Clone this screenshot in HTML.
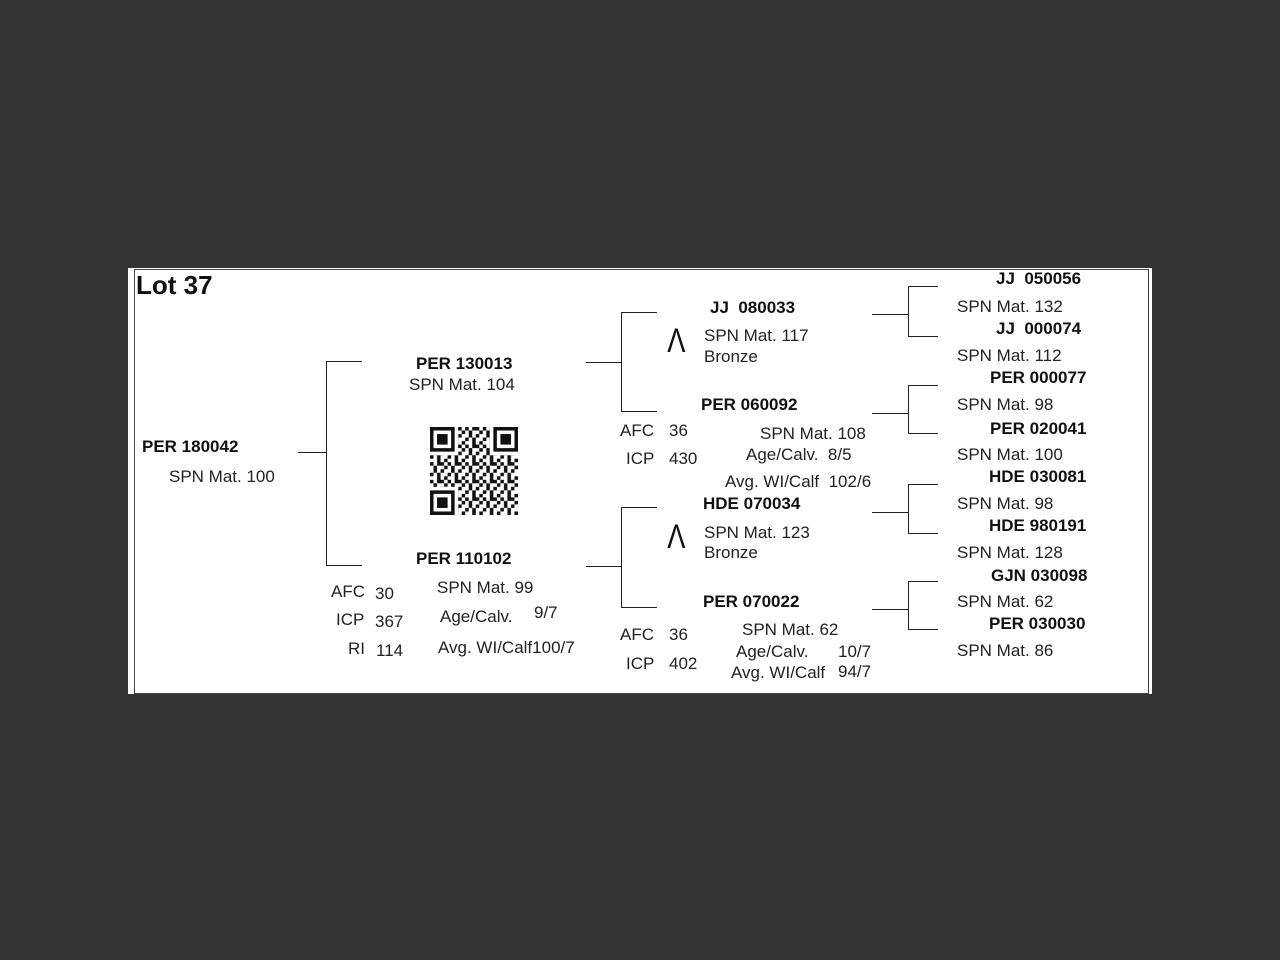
<!DOCTYPE html>
<html><head><style>
body{margin:0;width:1280px;height:960px;background:#333333;position:relative;overflow:hidden;font-family:"Liberation Sans",Arial,sans-serif;}
#box{position:absolute;left:128px;top:268px;width:1024px;height:426px;background:#fff;}
.in{position:absolute;left:134px;top:269px;width:1013px;height:423px;border:1px solid #444;}
.t{position:absolute;font-size:17px;color:#222;white-space:pre;line-height:18px;margin-top:1px;}
.b{font-weight:bold;color:#111;}
.h{position:absolute;height:1px;background:#222;}
.v{position:absolute;width:1px;background:#222;}
.w{position:absolute;font-size:34px;color:#111;line-height:30px;transform:scaleX(0.8);}
</style></head><body>
<div id="box"></div><div class="in"></div>
<div class="t b" style="left:136px;top:270px;font-size:26px;line-height:28px;">Lot 37</div>

<div class="h" style="left:298px;top:452px;width:28px"></div>
<div class="v" style="left:326px;top:361px;height:205px"></div>
<div class="h" style="left:326px;top:361px;width:36px"></div>
<div class="h" style="left:326px;top:565px;width:36px"></div>
<div class="h" style="left:586px;top:362px;width:35px"></div>
<div class="v" style="left:621px;top:312px;height:100px"></div>
<div class="h" style="left:621px;top:312px;width:36px"></div>
<div class="h" style="left:621px;top:411px;width:36px"></div>
<div class="h" style="left:586px;top:566px;width:35px"></div>
<div class="v" style="left:621px;top:507px;height:101px"></div>
<div class="h" style="left:621px;top:507px;width:36px"></div>
<div class="h" style="left:621px;top:607px;width:36px"></div>
<div class="h" style="left:872px;top:314px;width:36px"></div><div class="v" style="left:908px;top:286px;height:51px"></div><div class="h" style="left:908px;top:286px;width:30px"></div><div class="h" style="left:908px;top:336px;width:30px"></div>
<div class="h" style="left:872px;top:413px;width:36px"></div><div class="v" style="left:908px;top:385px;height:49px"></div><div class="h" style="left:908px;top:385px;width:30px"></div><div class="h" style="left:908px;top:433px;width:30px"></div>
<div class="h" style="left:872px;top:512px;width:36px"></div><div class="v" style="left:908px;top:484px;height:50px"></div><div class="h" style="left:908px;top:484px;width:30px"></div><div class="h" style="left:908px;top:533px;width:30px"></div>
<div class="h" style="left:872px;top:609px;width:36px"></div><div class="v" style="left:908px;top:581px;height:49px"></div><div class="h" style="left:908px;top:581px;width:30px"></div><div class="h" style="left:908px;top:629px;width:30px"></div>

<div class="t b" style="left:142px;top:437px">PER 180042</div>
<div class="t" style="left:169px;top:467px">SPN Mat. 100</div>
<div class="t b" style="left:416px;top:354px">PER 130013</div>
<div class="t" style="left:409px;top:375px">SPN Mat. 104</div>
<svg style="position:absolute;left:430px;top:427px" width="88" height="88" viewBox="0 0 25 25">
<defs><pattern id="p" width="5" height="5" patternUnits="userSpaceOnUse">
<rect x="0" y="0" width="1" height="1" fill="#111"/><rect x="2" y="0" width="2" height="1" fill="#111"/><rect x="1" y="1" width="1" height="2" fill="#111"/><rect x="3" y="2" width="1" height="1" fill="#111"/><rect x="0" y="3" width="1" height="1" fill="#111"/><rect x="2" y="3" width="1" height="2" fill="#111"/><rect x="4" y="4" width="1" height="1" fill="#111"/><rect x="4" y="1" width="1" height="1" fill="#111"/>
</pattern></defs>
<rect width="25" height="25" fill="url(#p)"/>
<g fill="#fff"><rect x="0" y="0" width="8" height="8"/><rect x="17" y="0" width="8" height="8"/><rect x="0" y="17" width="8" height="8"/></g>
<g fill="#111"><rect x="0" y="0" width="7" height="7"/><rect x="18" y="0" width="7" height="7"/><rect x="0" y="18" width="7" height="7"/></g>
<g fill="#fff"><rect x="1" y="1" width="5" height="5"/><rect x="19" y="1" width="5" height="5"/><rect x="1" y="19" width="5" height="5"/></g>
<g fill="#111"><rect x="2" y="2" width="3" height="3"/><rect x="20" y="2" width="3" height="3"/><rect x="2" y="20" width="3" height="3"/></g>
</svg>
<div class="t b" style="left:416px;top:549px">PER 110102</div>
<div class="t" style="left:331px;top:582px">AFC</div><div class="t" style="left:375px;top:584px">30</div>
<div class="t" style="left:336px;top:610px">ICP</div><div class="t" style="left:375px;top:612px">367</div>
<div class="t" style="left:348px;top:639px">RI</div><div class="t" style="left:376px;top:641px">114</div>
<div class="t" style="left:437px;top:578px">SPN Mat. 99</div>
<div class="t" style="left:440px;top:607px">Age/Calv.</div><div class="t" style="left:534px;top:603px">9/7</div>
<div class="t" style="left:438px;top:638px">Avg. WI/Calf100/7</div>

<div class="t b" style="left:710px;top:298px">JJ  080033</div>
<div class="w" style="left:665px;top:326px">&#923;</div>
<div class="t" style="left:704px;top:326px">SPN Mat. 117</div>
<div class="t" style="left:704px;top:347px">Bronze</div>
<div class="t b" style="left:701px;top:395px">PER 060092</div>
<div class="t" style="left:620px;top:421px">AFC</div><div class="t" style="left:669px;top:421px">36</div>
<div class="t" style="left:626px;top:449px">ICP</div><div class="t" style="left:669px;top:449px">430</div>
<div class="t" style="left:760px;top:424px">SPN Mat. 108</div>
<div class="t" style="left:746px;top:445px">Age/Calv.  8/5</div>
<div class="t" style="left:725px;top:472px">Avg. WI/Calf  102/6</div>
<div class="t b" style="left:703px;top:494px">HDE 070034</div>
<div class="w" style="left:665px;top:522px">&#923;</div>
<div class="t" style="left:704px;top:523px">SPN Mat. 123</div>
<div class="t" style="left:704px;top:543px">Bronze</div>
<div class="t b" style="left:703px;top:592px">PER 070022</div>
<div class="t" style="left:620px;top:625px">AFC</div><div class="t" style="left:669px;top:625px">36</div>
<div class="t" style="left:626px;top:654px">ICP</div><div class="t" style="left:669px;top:654px">402</div>
<div class="t" style="left:742px;top:620px">SPN Mat. 62</div>
<div class="t" style="left:736px;top:642px">Age/Calv.</div><div class="t" style="left:838px;top:642px">10/7</div>
<div class="t" style="left:731px;top:663px">Avg. WI/Calf</div><div class="t" style="left:838px;top:662px">94/7</div>

<div class="t b" style="left:996px;top:269px">JJ  050056</div>
<div class="t" style="left:957px;top:297px">SPN Mat. 132</div>
<div class="t b" style="left:996px;top:319px">JJ  000074</div>
<div class="t" style="left:957px;top:346px">SPN Mat. 112</div>
<div class="t b" style="left:990px;top:368px">PER 000077</div>
<div class="t" style="left:957px;top:395px">SPN Mat. 98</div>
<div class="t b" style="left:990px;top:419px">PER 020041</div>
<div class="t" style="left:957px;top:445px">SPN Mat. 100</div>
<div class="t b" style="left:989px;top:467px">HDE 030081</div>
<div class="t" style="left:957px;top:494px">SPN Mat. 98</div>
<div class="t b" style="left:989px;top:516px">HDE 980191</div>
<div class="t" style="left:957px;top:543px">SPN Mat. 128</div>
<div class="t b" style="left:991px;top:566px">GJN 030098</div>
<div class="t" style="left:957px;top:592px">SPN Mat. 62</div>
<div class="t b" style="left:989px;top:614px">PER 030030</div>
<div class="t" style="left:957px;top:641px">SPN Mat. 86</div>
</body></html>
